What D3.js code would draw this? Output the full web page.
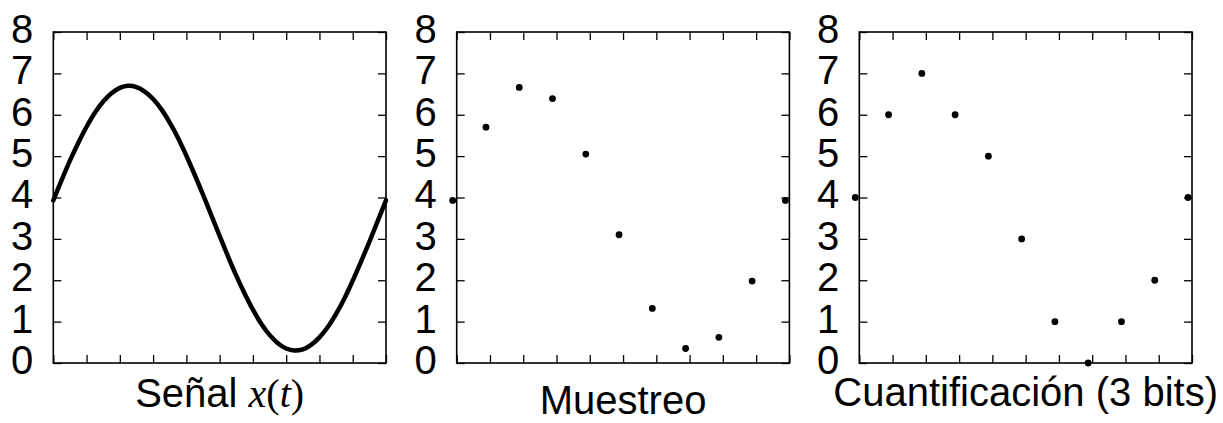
<!DOCTYPE html>
<html>
<head>
<meta charset="utf-8">
<script src="https://cdn.jsdelivr.net/npm/d3@7"></script>
<style>
  html, body { margin: 0; padding: 0; background: #fff; }
  svg { display: block; }
</style>
</head>
<body>
<svg id="chart" width="1223" height="423"></svg>
<script>
// ---- data ----
const yTicks = [0, 1, 2, 3, 4, 5, 6, 7, 8];
const xTicks = [0, 1, 2, 3, 4, 5, 6, 7, 8, 9, 10];
const titles = ["Señal", "Muestreo", "Cuantificación (3 bits)"];

// continuous signal x(t), read every 0.25 division
const signalT = [0, 0.25, 0.5, 0.75, 1, 1.25, 1.5, 1.75, 2, 2.25, 2.5, 2.75, 3, 3.25, 3.5, 3.75,
  4, 4.25, 4.5, 4.75, 5, 5.25, 5.5, 5.75, 6, 6.25, 6.5, 6.75, 7, 7.25, 7.5, 7.75,
  8, 8.25, 8.5, 8.75, 9, 9.25, 9.5, 9.75, 10];
const signalV = [3.93, 4.42, 4.89, 5.32, 5.71, 6.05, 6.32, 6.52, 6.65, 6.70, 6.67, 6.56, 6.38, 6.13, 5.81, 5.44,
  5.01, 4.55, 4.07, 3.57, 3.07, 2.58, 2.11, 1.68, 1.29, 0.95, 0.68, 0.48, 0.35, 0.30, 0.33, 0.44,
  0.62, 0.87, 1.19, 1.56, 1.99, 2.45, 2.93, 3.43, 3.93];

// sample instants (as drawn, slightly left of the ticks)
const sampleT = [-0.12, 0.88, 1.88, 2.88, 3.88, 4.88, 5.88, 6.88, 7.88, 8.88, 9.88];
const sampledV = [3.93, 5.70, 6.66, 6.39, 5.05, 3.10, 1.32, 0.35, 0.62, 1.98, 3.93];
const quantV = [4, 6, 7, 6, 5, 3, 1, 0, 1, 2, 4];

// ---- layout ----
const svg = d3.select("#chart");
const panelLefts = [53.3, 456.7, 859.3];
const panelW = 332.7;
const yTopPx = 32, yBottomPx = 363;
const FS = 40;
const FONT = "'Liberation Sans', Arial, Helvetica, sans-serif";
const SERIF = "'Liberation Serif', 'Times New Roman', serif";

function panel(i) {
  const left = panelLefts[i];
  const x = d3.scaleLinear().domain([0, 10]).range([left, left + panelW]);
  const y = d3.scaleLinear().domain([0, 8]).range([yBottomPx, yTopPx]);
  const g = svg.append("g");

  const tickStyle = s => s.attr("stroke", "#000").attr("stroke-width", 1.3);
  g.append("g").attr("transform", `translate(${left},0)`)
    .call(d3.axisLeft(y).tickValues(yTicks).tickSize(-8).tickSizeOuter(0).tickPadding(20)
      .tickFormat(d3.format("d")))
    .call(a => a.select(".domain").remove())
    .call(a => a.selectAll("line").call(tickStyle))
    .call(a => a.selectAll("text").attr("font-family", FONT).attr("font-size", FS)
      .attr("fill", "#000").attr("dy", "0.26em"));
  g.append("g").attr("transform", `translate(${left + panelW},0)`)
    .call(d3.axisRight(y).tickValues(yTicks).tickSize(-8).tickSizeOuter(0).tickFormat(""))
    .call(a => a.select(".domain").remove())
    .call(a => a.selectAll("line").call(tickStyle));
  g.append("g").attr("transform", `translate(0,${yBottomPx})`)
    .call(d3.axisBottom(x).tickValues(xTicks).tickSize(-8).tickSizeOuter(0).tickFormat(""))
    .call(a => a.select(".domain").remove())
    .call(a => a.selectAll("line").call(tickStyle));
  g.append("g").attr("transform", `translate(0,${yTopPx})`)
    .call(d3.axisTop(x).tickValues(xTicks).tickSize(-8).tickSizeOuter(0).tickFormat(""))
    .call(a => a.select(".domain").remove())
    .call(a => a.selectAll("line").call(tickStyle));

  g.append("rect")
    .attr("x", x(0)).attr("y", y(8))
    .attr("width", x(10) - x(0)).attr("height", y(0) - y(8))
    .attr("fill", "none").attr("stroke", "#000").attr("stroke-width", 1.6);

  return { g, x, y, left };
}

// Panel 1: continuous signal
{
  const { g, x, y, left } = panel(0);
  const pts = signalT.map((t, k) => [t, signalV[k]]);
  g.append("path")
    .datum(pts)
    .attr("fill", "none").attr("stroke", "#000").attr("stroke-width", 4.5)
    .attr("stroke-linejoin", "round").attr("stroke-linecap", "round")
    .attr("d", d3.line().x(d => x(d[0])).y(d => y(d[1])).curve(d3.curveCatmullRom));
  const t = g.append("text")
    .attr("x", left + panelW / 2).attr("y", 407)
    .attr("text-anchor", "middle").attr("font-size", FS).attr("fill", "#000")
    .attr("font-family", FONT);
  t.append("tspan").text(titles[0] + " ");
  t.append("tspan").attr("font-family", SERIF).attr("font-style", "italic").text("x");
  t.append("tspan").attr("font-family", SERIF).text("(");
  t.append("tspan").attr("font-family", SERIF).attr("font-style", "italic").text("t");
  t.append("tspan").attr("font-family", SERIF).text(")");
}

// Panel 2: samples
{
  const { g, x, y, left } = panel(1);
  g.selectAll("circle").data(sampleT.map((t, k) => [t, sampledV[k]])).join("circle")
    .attr("cx", d => x(d[0])).attr("cy", d => y(d[1])).attr("r", 3.4).attr("fill", "#000");
  g.append("text")
    .attr("x", left + panelW / 2).attr("y", 414)
    .attr("text-anchor", "middle").attr("font-size", FS).attr("fill", "#000")
    .attr("font-family", FONT).text(titles[1]);
}

// Panel 3: quantized
{
  const { g, x, y, left } = panel(2);
  g.selectAll("circle").data(sampleT.map((t, k) => [t, quantV[k]])).join("circle")
    .attr("cx", d => x(d[0])).attr("cy", d => y(d[1])).attr("r", 3.4).attr("fill", "#000");
  g.append("text")
    .attr("x", left + panelW / 2).attr("y", 406)
    .attr("text-anchor", "middle").attr("font-size", FS).attr("fill", "#000")
    .attr("font-family", FONT).text(titles[2]);
}
</script>
</body>
</html>
